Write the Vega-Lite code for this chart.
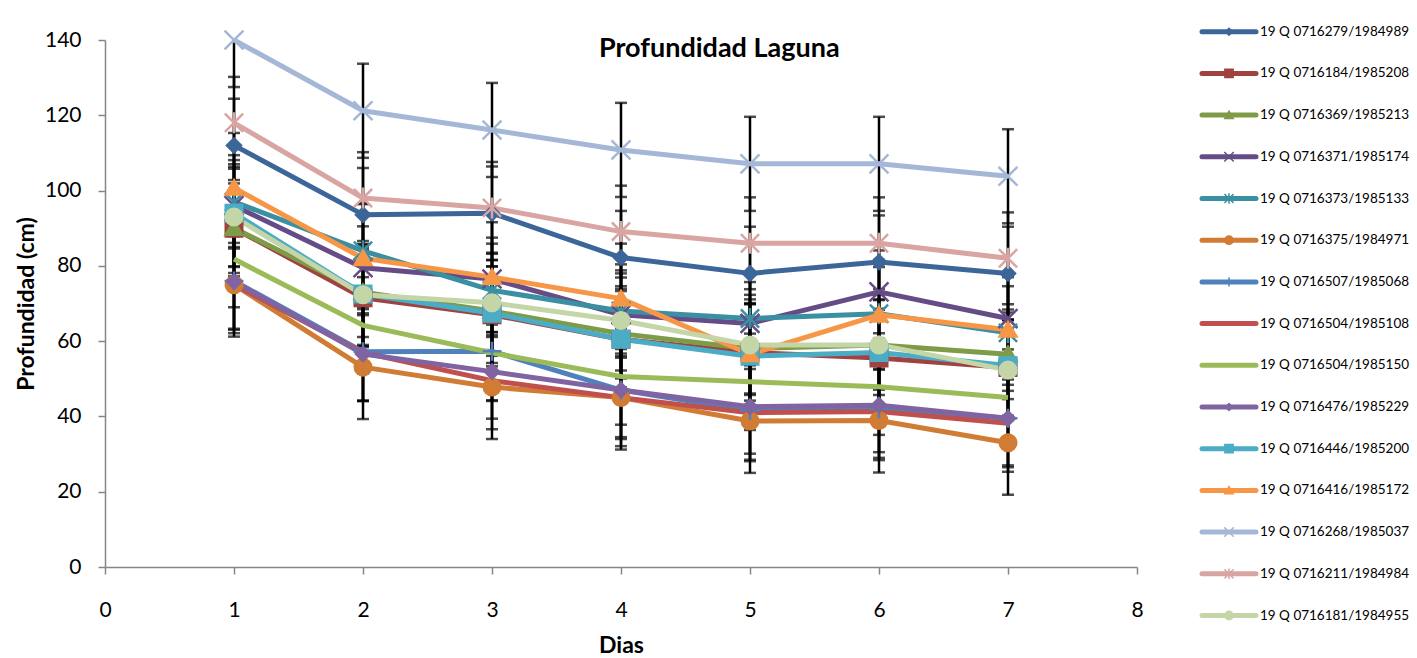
{
  "$schema": "https://vega.github.io/schema/vega-lite/v6.json",
  "background": "white",
  "padding": {"left": 15, "top": 24, "right": 0, "bottom": 0},
  "autosize": {"type": "pad"},
  "title": {"text": "Profundidad Laguna", "font": "Lato", "fontSize": 27, "fontWeight": "bold", "color": "black", "anchor": "middle", "offset": -38, "dx": 7},
  "config": {
    "font": "Lato",
    "view": {"stroke": null},
    "axis": {"grid": false, "domainColor": "#868686", "domainWidth": 1.5, "tickColor": "#868686", "tickWidth": 1.5, "tickSize": 7, "labelFont": "Lato", "labelFontSize": 21, "labelColor": "black", "titleFont": "Lato", "titleFontSize": 23, "titleFontWeight": "bold", "titleColor": "black", "labelFlush": false, "labelOverlap": false},
    "axisY": {"labelPadding": 17, "titlePadding": 6},
    "axisX": {"labelPadding": 25, "titlePadding": 14}
  },
  "datasets": {
    "pts": [
      {"serie": "19 Q 0716279/1984989", "dia": 1, "prof": 112, "sd": 12.4},
      {"serie": "19 Q 0716279/1984989", "dia": 2, "prof": 93.6, "sd": 12.4},
      {"serie": "19 Q 0716279/1984989", "dia": 3, "prof": 94, "sd": 12.4},
      {"serie": "19 Q 0716279/1984989", "dia": 4, "prof": 82.2, "sd": 12.4},
      {"serie": "19 Q 0716279/1984989", "dia": 5, "prof": 78, "sd": 12.4},
      {"serie": "19 Q 0716279/1984989", "dia": 6, "prof": 81, "sd": 12.4},
      {"serie": "19 Q 0716279/1984989", "dia": 7, "prof": 78, "sd": 12.4},
      {"serie": "19 Q 0716184/1985208", "dia": 1, "prof": 90, "sd": 12.8},
      {"serie": "19 Q 0716184/1985208", "dia": 2, "prof": 71.5, "sd": 12.8},
      {"serie": "19 Q 0716184/1985208", "dia": 3, "prof": 67, "sd": 12.8},
      {"serie": "19 Q 0716184/1985208", "dia": 4, "prof": 60.5, "sd": 12.8},
      {"serie": "19 Q 0716184/1985208", "dia": 5, "prof": 57, "sd": 12.8},
      {"serie": "19 Q 0716184/1985208", "dia": 6, "prof": 55.5, "sd": 12.8},
      {"serie": "19 Q 0716184/1985208", "dia": 7, "prof": 53, "sd": 12.8},
      {"serie": "19 Q 0716369/1985213", "dia": 1, "prof": 90, "sd": 11.9},
      {"serie": "19 Q 0716369/1985213", "dia": 2, "prof": 73, "sd": 11.9},
      {"serie": "19 Q 0716369/1985213", "dia": 3, "prof": 68, "sd": 11.9},
      {"serie": "19 Q 0716369/1985213", "dia": 4, "prof": 62, "sd": 11.9},
      {"serie": "19 Q 0716369/1985213", "dia": 5, "prof": 58, "sd": 11.9},
      {"serie": "19 Q 0716369/1985213", "dia": 6, "prof": 59, "sd": 11.9},
      {"serie": "19 Q 0716369/1985213", "dia": 7, "prof": 56.5, "sd": 11.9},
      {"serie": "19 Q 0716371/1985174", "dia": 1, "prof": 96, "sd": 11.0},
      {"serie": "19 Q 0716371/1985174", "dia": 2, "prof": 79.5, "sd": 11.0},
      {"serie": "19 Q 0716371/1985174", "dia": 3, "prof": 76.5, "sd": 11.0},
      {"serie": "19 Q 0716371/1985174", "dia": 4, "prof": 67, "sd": 11.0},
      {"serie": "19 Q 0716371/1985174", "dia": 5, "prof": 64.7, "sd": 11.0},
      {"serie": "19 Q 0716371/1985174", "dia": 6, "prof": 73.1, "sd": 11.0},
      {"serie": "19 Q 0716371/1985174", "dia": 7, "prof": 66, "sd": 11.0},
      {"serie": "19 Q 0716373/1985133", "dia": 1, "prof": 97, "sd": 12.4},
      {"serie": "19 Q 0716373/1985133", "dia": 2, "prof": 84, "sd": 12.4},
      {"serie": "19 Q 0716373/1985133", "dia": 3, "prof": 73.5, "sd": 12.4},
      {"serie": "19 Q 0716373/1985133", "dia": 4, "prof": 68, "sd": 12.4},
      {"serie": "19 Q 0716373/1985133", "dia": 5, "prof": 66, "sd": 12.4},
      {"serie": "19 Q 0716373/1985133", "dia": 6, "prof": 67.3, "sd": 12.4},
      {"serie": "19 Q 0716373/1985133", "dia": 7, "prof": 62.2, "sd": 12.4},
      {"serie": "19 Q 0716375/1984971", "dia": 1, "prof": 75, "sd": 13.8},
      {"serie": "19 Q 0716375/1984971", "dia": 2, "prof": 53.1, "sd": 13.8},
      {"serie": "19 Q 0716375/1984971", "dia": 3, "prof": 47.8, "sd": 13.8},
      {"serie": "19 Q 0716375/1984971", "dia": 4, "prof": 45, "sd": 13.8},
      {"serie": "19 Q 0716375/1984971", "dia": 5, "prof": 38.8, "sd": 13.8},
      {"serie": "19 Q 0716375/1984971", "dia": 6, "prof": 38.9, "sd": 13.8},
      {"serie": "19 Q 0716375/1984971", "dia": 7, "prof": 33, "sd": 13.8},
      {"serie": "19 Q 0716507/1985068", "dia": 1, "prof": 76, "sd": 13.0},
      {"serie": "19 Q 0716507/1985068", "dia": 2, "prof": 57.2, "sd": 13.0},
      {"serie": "19 Q 0716507/1985068", "dia": 3, "prof": 57.3, "sd": 13.0},
      {"serie": "19 Q 0716507/1985068", "dia": 4, "prof": 47, "sd": 13.0},
      {"serie": "19 Q 0716507/1985068", "dia": 5, "prof": 41.5, "sd": 13.0},
      {"serie": "19 Q 0716507/1985068", "dia": 6, "prof": 42, "sd": 13.0},
      {"serie": "19 Q 0716507/1985068", "dia": 7, "prof": 39.5, "sd": 13.0},
      {"serie": "19 Q 0716504/1985108", "dia": 1, "prof": 75, "sd": 12.9},
      {"serie": "19 Q 0716504/1985108", "dia": 2, "prof": 57, "sd": 12.9},
      {"serie": "19 Q 0716504/1985108", "dia": 3, "prof": 49.5, "sd": 12.9},
      {"serie": "19 Q 0716504/1985108", "dia": 4, "prof": 45, "sd": 12.9},
      {"serie": "19 Q 0716504/1985108", "dia": 5, "prof": 41, "sd": 12.9},
      {"serie": "19 Q 0716504/1985108", "dia": 6, "prof": 41.3, "sd": 12.9},
      {"serie": "19 Q 0716504/1985108", "dia": 7, "prof": 38.2, "sd": 12.9},
      {"serie": "19 Q 0716504/1985150", "dia": 1, "prof": 81.8, "sd": 12.8},
      {"serie": "19 Q 0716504/1985150", "dia": 2, "prof": 64.2, "sd": 12.8},
      {"serie": "19 Q 0716504/1985150", "dia": 3, "prof": 56.9, "sd": 12.8},
      {"serie": "19 Q 0716504/1985150", "dia": 4, "prof": 50.6, "sd": 12.8},
      {"serie": "19 Q 0716504/1985150", "dia": 5, "prof": 49.2, "sd": 12.8},
      {"serie": "19 Q 0716504/1985150", "dia": 6, "prof": 47.9, "sd": 12.8},
      {"serie": "19 Q 0716504/1985150", "dia": 7, "prof": 45, "sd": 12.8},
      {"serie": "19 Q 0716476/1985229", "dia": 1, "prof": 75.8, "sd": 12.5},
      {"serie": "19 Q 0716476/1985229", "dia": 2, "prof": 56.6, "sd": 12.5},
      {"serie": "19 Q 0716476/1985229", "dia": 3, "prof": 51.9, "sd": 12.5},
      {"serie": "19 Q 0716476/1985229", "dia": 4, "prof": 47, "sd": 12.5},
      {"serie": "19 Q 0716476/1985229", "dia": 5, "prof": 42.6, "sd": 12.5},
      {"serie": "19 Q 0716476/1985229", "dia": 6, "prof": 43, "sd": 12.5},
      {"serie": "19 Q 0716476/1985229", "dia": 7, "prof": 39.5, "sd": 12.5},
      {"serie": "19 Q 0716446/1985200", "dia": 1, "prof": 94, "sd": 14.1},
      {"serie": "19 Q 0716446/1985200", "dia": 2, "prof": 72.5, "sd": 14.1},
      {"serie": "19 Q 0716446/1985200", "dia": 3, "prof": 67.4, "sd": 14.1},
      {"serie": "19 Q 0716446/1985200", "dia": 4, "prof": 60.5, "sd": 14.1},
      {"serie": "19 Q 0716446/1985200", "dia": 5, "prof": 56, "sd": 14.1},
      {"serie": "19 Q 0716446/1985200", "dia": 6, "prof": 57, "sd": 14.1},
      {"serie": "19 Q 0716446/1985200", "dia": 7, "prof": 53.5, "sd": 14.1},
      {"serie": "19 Q 0716416/1985172", "dia": 1, "prof": 100.7, "sd": 14.6},
      {"serie": "19 Q 0716416/1985172", "dia": 2, "prof": 82, "sd": 14.6},
      {"serie": "19 Q 0716416/1985172", "dia": 3, "prof": 77, "sd": 14.6},
      {"serie": "19 Q 0716416/1985172", "dia": 4, "prof": 71.3, "sd": 14.6},
      {"serie": "19 Q 0716416/1985172", "dia": 5, "prof": 56.5, "sd": 14.6},
      {"serie": "19 Q 0716416/1985172", "dia": 6, "prof": 67, "sd": 14.6},
      {"serie": "19 Q 0716416/1985172", "dia": 7, "prof": 63, "sd": 14.6},
      {"serie": "19 Q 0716268/1985037", "dia": 1, "prof": 140, "sd": 12.5},
      {"serie": "19 Q 0716268/1985037", "dia": 2, "prof": 121.2, "sd": 12.5},
      {"serie": "19 Q 0716268/1985037", "dia": 3, "prof": 116.1, "sd": 12.5},
      {"serie": "19 Q 0716268/1985037", "dia": 4, "prof": 110.8, "sd": 12.5},
      {"serie": "19 Q 0716268/1985037", "dia": 5, "prof": 107.1, "sd": 12.5},
      {"serie": "19 Q 0716268/1985037", "dia": 6, "prof": 107.1, "sd": 12.5},
      {"serie": "19 Q 0716268/1985037", "dia": 7, "prof": 103.8, "sd": 12.5},
      {"serie": "19 Q 0716211/1984984", "dia": 1, "prof": 118, "sd": 12.2},
      {"serie": "19 Q 0716211/1984984", "dia": 2, "prof": 98, "sd": 12.2},
      {"serie": "19 Q 0716211/1984984", "dia": 3, "prof": 95.4, "sd": 12.2},
      {"serie": "19 Q 0716211/1984984", "dia": 4, "prof": 89.1, "sd": 12.2},
      {"serie": "19 Q 0716211/1984984", "dia": 5, "prof": 86, "sd": 12.2},
      {"serie": "19 Q 0716211/1984984", "dia": 6, "prof": 86, "sd": 12.2},
      {"serie": "19 Q 0716211/1984984", "dia": 7, "prof": 82, "sd": 12.2},
      {"serie": "19 Q 0716181/1984955", "dia": 1, "prof": 93, "sd": 13.3},
      {"serie": "19 Q 0716181/1984955", "dia": 2, "prof": 72.3, "sd": 13.3},
      {"serie": "19 Q 0716181/1984955", "dia": 3, "prof": 70.2, "sd": 13.3},
      {"serie": "19 Q 0716181/1984955", "dia": 4, "prof": 65.5, "sd": 13.3},
      {"serie": "19 Q 0716181/1984955", "dia": 5, "prof": 59, "sd": 13.3},
      {"serie": "19 Q 0716181/1984955", "dia": 6, "prof": 59, "sd": 13.3},
      {"serie": "19 Q 0716181/1984955", "dia": 7, "prof": 52.3, "sd": 13.3}
    ]
  },
  "spacing": 55,
  "hconcat": [
    {
      "width": 1032,
      "height": 527,
      "data": {"name": "pts"},
      "encoding": {
        "x": {"field": "dia", "type": "quantitative", "title": "Dias", "scale": {"domain": [0, 8], "nice": false, "zero": false}, "axis": {"values": [0, 1, 2, 3, 4, 5, 6, 7, 8], "format": "d"}},
        "y": {"field": "prof", "type": "quantitative", "title": "Profundidad (cm)", "scale": {"domain": [0, 140], "nice": false}, "axis": {"values": [0, 20, 40, 60, 80, 100, 120, 140], "format": "d"}}
      },
      "layer": [
        {
          "mark": {"type": "errorbar", "ticks": {"size": 12, "thickness": 2.5, "color": "black", "clip": true}, "rule": {"strokeWidth": 2.5, "color": "black", "clip": true}},
          "encoding": {"yError": {"field": "sd"}, "detail": {"field": "serie"}}
        },
        {
          "mark": {"type": "line", "strokeWidth": 5, "strokeJoin": "round"},
          "encoding": {
            "color": {"field": "serie", "type": "nominal", "legend": null, "sort": null,
              "scale": {"domain": ["19 Q 0716279/1984989", "19 Q 0716184/1985208", "19 Q 0716369/1985213", "19 Q 0716371/1985174", "19 Q 0716373/1985133", "19 Q 0716375/1984971", "19 Q 0716507/1985068", "19 Q 0716504/1985108", "19 Q 0716504/1985150", "19 Q 0716476/1985229", "19 Q 0716446/1985200", "19 Q 0716416/1985172", "19 Q 0716268/1985037", "19 Q 0716211/1984984", "19 Q 0716181/1984955"],
                "range": ["#3C6699", "#A0423F", "#7E9B47", "#664C86", "#3A8FA3", "#D17C35", "#4F81BD", "#C0504D", "#9BBB59", "#8064A2", "#4BACC6", "#F79646", "#A5B7D7", "#D9A5A3", "#C4D6A8"]}}
          }
        },
        {
          "mark": {"type": "point", "filled": true, "size": 196, "strokeWidth": 2.5, "opacity": 1},
          "encoding": {
            "color": {"field": "serie", "type": "nominal", "legend": null},
            "stroke": {"field": "serie", "type": "nominal", "legend": null,
              "scale": {"domain": ["19 Q 0716279/1984989", "19 Q 0716184/1985208", "19 Q 0716369/1985213", "19 Q 0716371/1985174", "19 Q 0716373/1985133", "19 Q 0716375/1984971", "19 Q 0716507/1985068", "19 Q 0716504/1985108", "19 Q 0716504/1985150", "19 Q 0716476/1985229", "19 Q 0716446/1985200", "19 Q 0716416/1985172", "19 Q 0716268/1985037", "19 Q 0716211/1984984", "19 Q 0716181/1984955"],
                "range": ["#3C6699", "#A0423F", "#7E9B47", "#664C86", "#3A8FA3", "#D17C35", "#4F81BD", "#C0504D", "#9BBB59", "#8064A2", "#4BACC6", "#F79646", "#A5B7D7", "#D9A5A3", "#C4D6A8"]}},
            "shape": {"field": "serie", "type": "nominal", "legend": null,
              "scale": {"domain": ["19 Q 0716279/1984989", "19 Q 0716184/1985208", "19 Q 0716369/1985213", "19 Q 0716371/1985174", "19 Q 0716373/1985133", "19 Q 0716375/1984971", "19 Q 0716507/1985068", "19 Q 0716504/1985108", "19 Q 0716504/1985150", "19 Q 0716476/1985229", "19 Q 0716446/1985200", "19 Q 0716416/1985172", "19 Q 0716268/1985037", "19 Q 0716211/1984984", "19 Q 0716181/1984955"],
                "range": ["M0,-1L1,0L0,1L-1,0Z", "M-1.18,-1.18L1.18,-1.18L1.18,1.18L-1.18,1.18Z", "M0,-1.1L1.2,0.95L-1.2,0.95Z", "M-1.35,-1.35L1.35,1.35M-1.35,1.35L1.35,-1.35", "M-1.3,-1.3L1.3,1.3M-1.3,1.3L1.3,-1.3M0,-1.5L0,1.5", "M1.18,0A1.18,1.18,0,1,1,-1.18,0A1.18,1.18,0,1,1,1.18,0Z", "M0,-1.35L0,1.35M-1.35,0L1.35,0", "M0,0", "M0,0", "M0,-1L1,0L0,1L-1,0Z", "M-1.18,-1.18L1.18,-1.18L1.18,1.18L-1.18,1.18Z", "M0,-1.1L1.2,0.95L-1.2,0.95Z", "M-1.35,-1.35L1.35,1.35M-1.35,1.35L1.35,-1.35", "M-1.3,-1.3L1.3,1.3M-1.3,1.3L1.3,-1.3M0,-1.5L0,1.5", "M1.18,0A1.18,1.18,0,1,1,-1.18,0A1.18,1.18,0,1,1,1.18,0Z"]}}
          }
        }
      ]
    },
    {
      "width": 54,
      "height": 567,
      "data": {"name": "pts"},
      "transform": [{"filter": "datum.dia == 1"}],
      "encoding": {
        "y": {"field": "serie", "type": "nominal", "axis": null, "sort": null,
          "scale": {"type": "point", "padding": 0, "range": [-8.3, 575.5], "domain": ["19 Q 0716279/1984989", "19 Q 0716184/1985208", "19 Q 0716369/1985213", "19 Q 0716371/1985174", "19 Q 0716373/1985133", "19 Q 0716375/1984971", "19 Q 0716507/1985068", "19 Q 0716504/1985108", "19 Q 0716504/1985150", "19 Q 0716476/1985229", "19 Q 0716446/1985200", "19 Q 0716416/1985172", "19 Q 0716268/1985037", "19 Q 0716211/1984984", "19 Q 0716181/1984955"]}}
      },
      "layer": [
        {
          "mark": {"type": "rule", "strokeWidth": 5, "strokeCap": "round"},
          "encoding": {
            "x": {"datum": 0, "type": "quantitative", "scale": {"domain": [0, 1]}, "axis": null},
            "x2": {"datum": 1},
            "color": {"field": "serie", "type": "nominal", "legend": null}
          }
        },
        {
          "mark": {"type": "point", "filled": true, "size": 49, "strokeWidth": 1.5, "opacity": 1},
          "encoding": {
            "x": {"datum": 0.5, "type": "quantitative", "scale": {"domain": [0, 1]}, "axis": null},
            "color": {"field": "serie", "type": "nominal", "legend": null},
            "stroke": {"field": "serie", "type": "nominal", "legend": null},
            "shape": {"field": "serie", "type": "nominal", "legend": null}
          }
        },
        {
          "mark": {"type": "text", "align": "left", "baseline": "middle", "dx": 4, "font": "Lato", "fontSize": 13.5, "color": "black"},
          "encoding": {
            "x": {"datum": 1, "type": "quantitative", "scale": {"domain": [0, 1]}, "axis": null},
            "text": {"field": "serie"}
          }
        }
      ]
    }
  ]
}
